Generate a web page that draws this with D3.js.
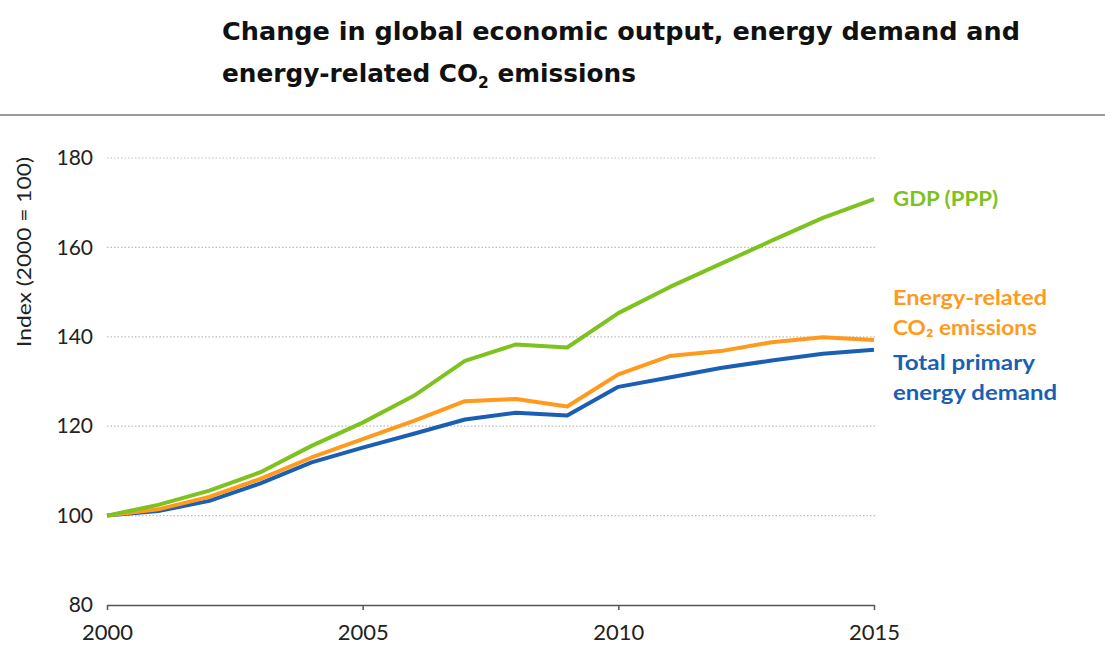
<!DOCTYPE html>
<html>
<head>
<meta charset="utf-8">
<script src="https://cdn.jsdelivr.net/npm/d3@7"></script>
<style>
  html, body { margin: 0; padding: 0; background: #fff; }
  svg { display: block; }
</style>
</head>
<body>
<svg id="chart" width="1105" height="645"></svg>
<script>
// Index values, 2000 = 100
const years = [2000, 2001, 2002, 2003, 2004, 2005, 2006, 2007, 2008, 2009, 2010, 2011, 2012, 2013, 2014, 2015];
const gdp = [100, 102.4, 105.6, 109.7, 115.6, 120.8, 126.8, 134.6, 138.3, 137.6, 145.3, 151.1, 156.3, 161.5, 166.6, 170.8];
const co2 = [100, 101.4, 104.2, 108.2, 113.0, 117.1, 121.2, 125.6, 126.1, 124.4, 131.6, 135.7, 136.8, 138.8, 139.9, 139.3];
const energy = [100, 101.0, 103.3, 107.2, 111.9, 115.2, 118.3, 121.5, 123.0, 122.4, 128.8, 130.9, 133.0, 134.7, 136.2, 137.1];
const yTicks = [80, 100, 120, 140, 160, 180];
const xTicks = [2000, 2005, 2010, 2015];

const series = [
  { name: "energy", values: energy, color: "#1a5fb4" },
  { name: "co2", values: co2, color: "#ff9a1c" },
  { name: "gdp", values: gdp, color: "#7dc21e" }
];

const svg = d3.select("#chart");
const labelFont = "Lato, 'Open Sans', sans-serif";

// Title
const title = svg.append("g").attr("font-family", "'DejaVu Sans', sans-serif")
  .attr("font-weight", "bold").attr("fill", "#111");
title.append("text").attr("x", 222).attr("y", 40).attr("font-size", 24)
  .attr("textLength", 798).attr("lengthAdjust", "spacingAndGlyphs")
  .text("Change in global economic output, energy demand and");
const t2 = title.append("text").attr("x", 222).attr("y", 82).attr("font-size", 24)
  .attr("textLength", 414).attr("lengthAdjust", "spacingAndGlyphs");
t2.append("tspan").text("energy-related CO");
t2.append("tspan").attr("font-size", 15).attr("dy", 6).text("2");
t2.append("tspan").attr("dy", -6).text(" emissions");

// Separator rule
svg.append("line").attr("x1", 0).attr("x2", 1105).attr("y1", 115).attr("y2", 115)
  .attr("stroke", "#9a9a9a").attr("stroke-width", 2);

const x = d3.scaleLinear().domain([2000, 2015]).range([107, 874]);
const y = d3.scaleLinear().domain([80, 180]).range([605, 158]);

// Dotted gridlines
svg.append("g").selectAll("line").data(yTicks.filter(d => d > 80)).join("line")
  .attr("x1", x(2000)).attr("x2", x(2015) + 2)
  .attr("y1", d => y(d)).attr("y2", d => y(d))
  .attr("stroke", "#bdbdbd").attr("stroke-width", 1.2).attr("stroke-dasharray", "1.5,2");

// Y axis labels
const yAxis = svg.append("g").attr("transform", `translate(${x(2000)},0)`)
  .call(d3.axisLeft(y).tickValues(yTicks).tickSize(0).tickPadding(14));
yAxis.select(".domain").remove();
yAxis.selectAll("text").attr("font-family", labelFont).attr("font-size", 21).attr("fill", "#222");

// X axis
const xAxis = svg.append("g").attr("transform", `translate(0,${y(80)})`)
  .call(d3.axisBottom(x).tickValues(xTicks).tickFormat(d3.format("d")).tickSize(5).tickSizeOuter(0).tickPadding(14));
xAxis.select(".domain").attr("stroke", "#555").attr("stroke-width", 1.5);
xAxis.selectAll(".tick line").attr("stroke", "#555").attr("stroke-width", 1.5);
xAxis.selectAll("text").attr("font-family", labelFont).attr("font-size", 22).attr("fill", "#222");

// Y axis title
svg.append("text").attr("transform", "translate(31,252) rotate(-90)")
  .attr("text-anchor", "middle").attr("font-family", labelFont).attr("font-size", 19)
  .attr("textLength", 190).attr("lengthAdjust", "spacingAndGlyphs")
  .attr("fill", "#222").text("Index (2000 = 100)");

// Lines
const line = d3.line().x((d, i) => x(years[i])).y(d => y(d));
svg.append("g").selectAll("path").data(series).join("path")
  .attr("d", d => line(d.values))
  .attr("fill", "none").attr("stroke", d => d.color)
  .attr("stroke-width", 4).attr("stroke-linejoin", "round");

// Series labels
const lab = svg.append("g").attr("font-family", labelFont).attr("font-weight", "bold").attr("font-size", 21);
const labels = [
  { text: "GDP (PPP)", y: 206, color: "#7dc21e", w: 105 },
  { text: "Energy-related", y: 305, color: "#ff9a1c", w: 154 },
  { text: "CO₂ emissions", y: 335, color: "#ff9a1c", w: 144 },
  { text: "Total primary", y: 370, color: "#1a5fb4", w: 142 },
  { text: "energy demand", y: 400, color: "#1a5fb4", w: 164 }
];
lab.selectAll("text").data(labels).join("text")
  .attr("x", 893).attr("y", d => d.y).attr("fill", d => d.color)
  .attr("textLength", d => d.w).attr("lengthAdjust", "spacingAndGlyphs")
  .text(d => d.text);
</script>
</body>
</html>
